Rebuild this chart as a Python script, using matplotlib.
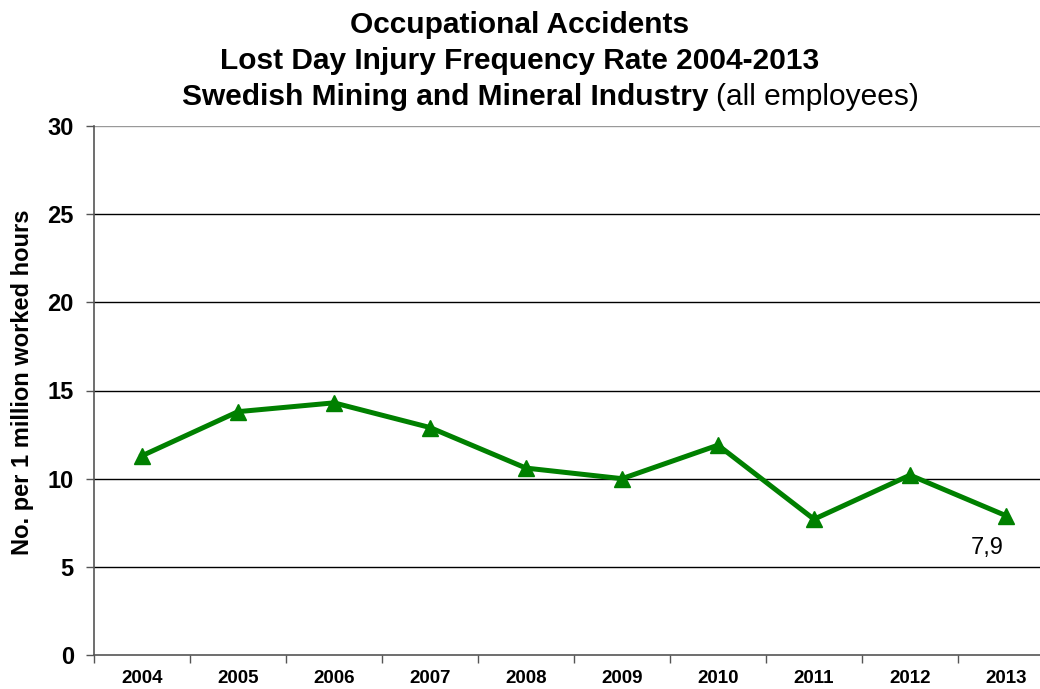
import matplotlib
matplotlib.use("Agg")
import matplotlib.pyplot as plt
import numpy as np

# data
years = ["2004", "2005", "2006", "2007", "2008", "2009", "2010", "2011", "2012", "2013"]
rate = [11.3, 13.8, 14.3, 12.9, 10.6, 10.0, 11.9, 7.7, 10.2, 7.9]
yticks = [0, 5, 10, 15, 20, 25, 30]

plt.rcParams['font.family'] = ['Liberation Sans', 'DejaVu Sans']

fig = plt.figure(figsize=(10.4, 6.89), dpi=100)
ax = fig.add_axes([94 / 1040, 1 - 655 / 689, 960 / 1040, (655 - 126) / 689])

x = np.arange(len(years))
green = '#008000'
ax.plot(x, rate, color=green, lw=3.6, marker='^', ms=11, mec=green, mfc=green,
        zorder=3, clip_on=False)

# label on last point
ax.annotate("7,9", xy=(x[-1], rate[-1]), xytext=(-19, -32), textcoords='offset pixels',
            ha='center', va='center', fontsize=17)

ax.set_xlim(-0.5, len(years) - 0.5)
ax.set_ylim(0, 30)
ax.set_yticks(yticks)
ax.set_yticklabels([str(v) for v in yticks], fontsize=17, fontweight='bold')
for v in yticks[1:-1]:
    ax.axhline(v, color='black', lw=1.0, zorder=1)
ax.axhline(30, color='#999999', lw=1.0, zorder=1)

# category ticks at boundaries, labels at centers
ax.set_xticks(np.arange(-0.5, len(years) + 0.5, 1))
ax.set_xticklabels([])
ax.set_xticks(x, minor=True)
ax.set_xticklabels(years, minor=True, fontsize=13.5, fontweight='bold')
ax.tick_params(axis='x', which='minor', length=0, pad=11)
ax.tick_params(axis='x', which='major', length=6, width=1, color='#555555', direction='out')
ax.tick_params(axis='y', length=6, width=1, color='#555555', direction='out', pad=8.5)

for s in ['top', 'right']:
    ax.spines[s].set_visible(False)
for s in ['left', 'bottom']:
    ax.spines[s].set_color('#555555')
    ax.spines[s].set_linewidth(1.2)

ax.set_ylabel("No. per 1 million worked hours", fontsize=17, fontweight='bold')
ax.yaxis.set_label_coords(34 / 1040, 1 - 382 / 689, transform=fig.transFigure)

# title, three lines
fig.text(0.5, 1 - 25 / 689, "Occupational Accidents", ha='center', va='center',
         fontsize=21.5, fontweight='bold')
fig.text(0.5, 1 - 61 / 689, "Lost Day Injury Frequency Rate 2004-2013", ha='center', va='center',
         fontsize=21.5, fontweight='bold')
fig.text(708 / 1040, 1 - 97 / 689, "Swedish Mining and Mineral Industry", ha='right', va='center',
         fontsize=21.5, fontweight='bold')
fig.text(716 / 1040, 1 - 97 / 689, "(all employees)", ha='left', va='center',
         fontsize=21.5)

fig.savefig("out.png", dpi=100)
